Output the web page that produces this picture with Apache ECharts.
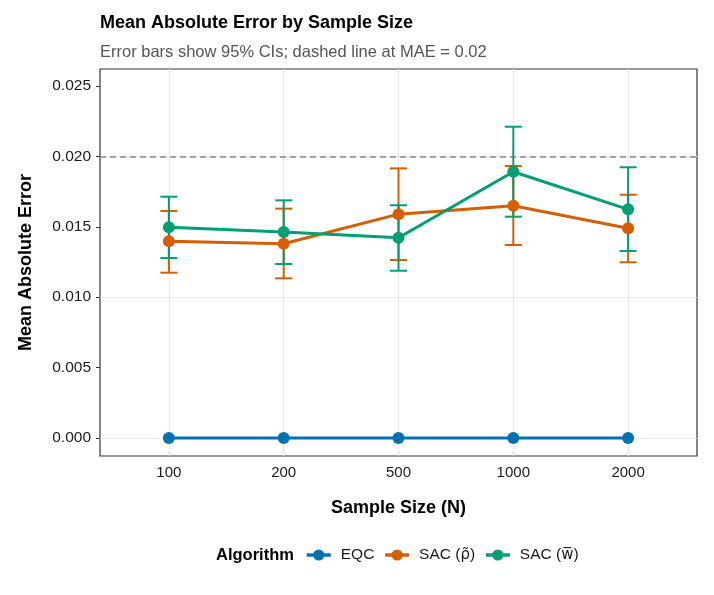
<!DOCTYPE html>
<html><head><meta charset="utf-8">
<script src="https://cdn.jsdelivr.net/npm/echarts@6/dist/echarts.min.js"></script>
<style>html,body{margin:0;padding:0;background:#fff}#c{width:714px;height:595px}</style>
</head><body><div id="c"></div>
<script>
const categories = ['100','200','500','1000','2000'];
const seriesNames = ['EQC','SAC (ρ̃)','SAC (w̅)'];
const eqcMean = [0,0,0,0,0];
const eqcLow = [0,0,0,0,0];
const eqcHigh = [0,0,0,0,0];
const rhoMean = [0.01397,0.01380,0.01590,0.01650,0.01490];
const rhoLow = [0.01174,0.01134,0.01264,0.01371,0.01248];
const rhoHigh = [0.01612,0.01629,0.01915,0.01932,0.01728];
const wMean = [0.01497,0.01463,0.01422,0.01891,0.01624];
const wLow = [0.01278,0.01236,0.01188,0.01572,0.01328];
const wHigh = [0.01714,0.01688,0.01653,0.02211,0.01923];
const yTicks = [0,0.005,0.010,0.015,0.020,0.025];
const refLine = 0.02;
const colors = ['#0072B2','#D55E00','#009E73'];
const FONT = 'Liberation Sans, Arial, sans-serif';

const chart = echarts.init(document.getElementById('c'));
const groups = [[eqcMean,eqcLow,eqcHigh],[rhoMean,rhoLow,rhoHigh],[wMean,wLow,wHigh]];

function errSeries(g, i){
  return {
    type:'custom', name:'err'+i, z:10,
    data: g[0].map((m,k)=>[k+1, g[1][k], g[2][k]]),
    renderItem:function(params, api){
      const x = api.value(0);
      const lo = api.coord([x, api.value(1)]);
      const hi = api.coord([x, api.value(2)]);
      const hw = 8.5, lw = 2;
      if (Math.abs(lo[1]-hi[1]) < 0.5) return {type:'group', children:[]};
      const fill = {fill: colors[i]};
      return {type:'group', children:[
        {type:'rect', shape:{x:lo[0]-lw/2, y:hi[1], width:lw, height:lo[1]-hi[1]}, style:fill},
        {type:'rect', shape:{x:lo[0]-hw, y:lo[1]-lw/2, width:2*hw, height:lw}, style:fill},
        {type:'rect', shape:{x:hi[0]-hw, y:hi[1]-lw/2, width:2*hw, height:lw}, style:fill}
      ]};
    },
    silent:true
  };
}
function lineSeries(g, i){
  return {
    type:'line', name: seriesNames[i], z:12,
    data: g[0].map((m,k)=>[k+1, m]),
    symbol:'circle', symbolSize:12,
    lineStyle:{color:colors[i], width:3},
    itemStyle:{color:colors[i]},
    animation:false
  };
}
const gridLineStyle = {color:'#e6e6e6', width:1, type:'solid'};
const series = [
  {type:'line', name:'grid', data:[], z:1, silent:true,
   markLine:{silent:true, z:1, symbol:['none','none'], label:{show:false}, animation:false,
     lineStyle:gridLineStyle,
     data: categories.map((c,k)=>({xAxis:k+1})).concat(yTicks.map(v=>({yAxis:v})))}},
  {type:'line', name:'ref', data:[], z:2, silent:true,
   markLine:{silent:true, z:2, symbol:['none','none'], label:{show:false}, animation:false,
     lineStyle:{color:'#888888', width:1.6, type:[6,4]},
     data:[{yAxis:refLine}]}}
];
groups.forEach((g,i)=>series.push(errSeries(g,i)));
groups.forEach((g,i)=>series.push(lineSeries(g,i)));

function legendFmt(name){
  const m = name.match(/^(.*\()(.*)(\))$/);
  if (!m) return name;
  return m[1] + '{g|' + m[2] + '}' + m[3];
}

chart.setOption({
  animation:false,
  textStyle:{fontFamily:FONT},
  title:[
    {text:'Mean Absolute Error by Sample Size', left:95, top:9,
     textStyle:{fontFamily:FONT, fontSize:18, fontWeight:'bold', color:'#000'}},
    {text:'Error bars show 95% CIs; dashed line at MAE = 0.02', left:95, top:39,
     textStyle:{fontFamily:FONT, fontSize:16.5, fontWeight:'normal', color:'#555'}}
  ],
  grid:{left:100, top:69, right:17, bottom:139, show:true, borderColor:'#333', borderWidth:1.2, backgroundColor:'#fff'},
  xAxis:{type:'value', min:0.4, max:5.6,
    name:'Sample Size (N)', nameLocation:'middle', nameGap:43,
    nameTextStyle:{fontFamily:FONT, fontSize:18, fontWeight:'bold', color:'#000'},
    axisLine:{show:false}, splitLine:{show:false},
    axisTick:{show:true, customValues:[1,2,3,4,5], length:4, lineStyle:{color:'#333'}},
    axisLabel:{customValues:[1,2,3,4,5], margin:9, fontSize:15, color:'#1a1a1a', fontFamily:FONT,
      formatter:v=>categories[Math.round(v)-1]||''}
  },
  yAxis:{type:'value', min:-0.00128, max:0.02621,
    name:'Mean Absolute Error', nameLocation:'middle', nameGap:65, nameRotate:90,
    nameTextStyle:{fontFamily:FONT, fontSize:18, fontWeight:'bold', color:'#000'},
    axisLine:{show:false}, splitLine:{show:false},
    axisTick:{show:true, customValues:yTicks, length:4, lineStyle:{color:'#333'}},
    axisLabel:{customValues:yTicks, margin:9, fontSize:15.5, color:'#1a1a1a', fontFamily:FONT,
      formatter:v=>v.toFixed(3)}
  },
  legend:{data:seriesNames, left:300, top:542, itemWidth:24, itemHeight:14, itemGap:9,
    lineStyle:{width:3.5}, itemStyle:{borderWidth:0},
    formatter:legendFmt,
    textStyle:{fontFamily:FONT, fontSize:15.5, color:'#1a1a1a', padding:[0,0,0,5],
      rich:{g:{fontFamily:'DejaVu Sans', fontSize:15, color:'#1a1a1a'}}}},
  graphic:[{type:'text', left:216, top:547, style:{text:'Algorithm', font:'bold 16.5px Liberation Sans, Arial, sans-serif', fill:'#000'}}],
  series: series
});
</script></body></html>
